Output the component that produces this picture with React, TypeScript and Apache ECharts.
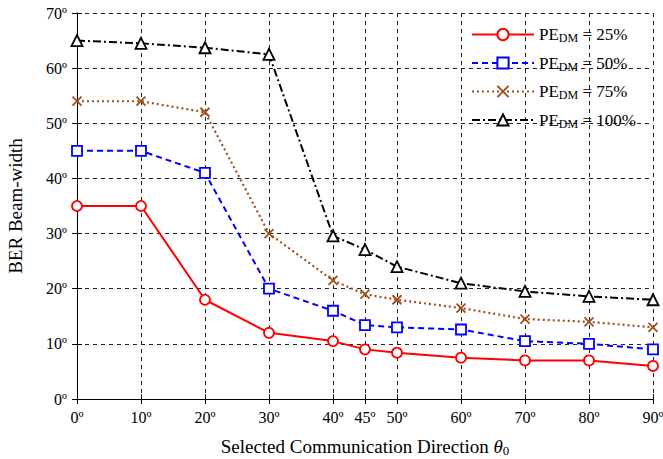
import React, { useEffect, useRef } from "react";
import * as echarts from "echarts";

const xValues = [0, 10, 20, 30, 40, 45, 50, 60, 70, 80, 90];
const xTicks = [0, 10, 20, 30, 40, 45, 50, 60, 70, 80, 90];
const pe25 = [35, 35, 18, 12, 10.5, 9, 8.4, 7.5, 7, 7, 6];
const pe50 = [45, 45, 41, 20, 16, 13.4, 13, 12.6, 10.5, 10, 9];
const pe75 = [54, 54, 52, 30, 21.5, 19, 18, 16.5, 14.5, 14, 13];
const pe100 = [65, 64.5, 63.7, 62.5, 29.6, 27.1, 24, 21, 19.5, 18.6, 18];
const seriesNames = ["25%", "50%", "75%", "100%"];

const FONT = "Liberation Serif";

export default function App() {
  const ref = useRef<HTMLDivElement>(null);
  useEffect(() => {
    if (!ref.current) return;
    const chart = echarts.init(ref.current, undefined, { renderer: "svg" });
    const deg = (v: number) => v + "\u00BA";
    const pair = (arr: number[]) => xValues.map((x, i) => [x, arr[i]]);
    const baseX = {
      type: "value",
      min: 0,
      max: 90,
      axisLine: { show: true, lineStyle: { color: "#000", width: 1 } },
      axisTick: { show: true, inside: true, length: 5, customValues: xTicks, lineStyle: { color: "#000" } },
    };
    const baseY = {
      type: "value",
      min: 0,
      max: 70,
      interval: 10,
      axisLine: { show: true, lineStyle: { color: "#000", width: 1 } },
      axisTick: { show: true, inside: true, length: 5, lineStyle: { color: "#000" } },
    };
    const mk = (
      name: string,
      data: number[],
      color: string,
      type: any,
      symbol: string,
      symbolSize: number,
      fill: string,
      width: number
    ) => ({
      name,
      type: "line",
      data: pair(data),
      color,
      symbol,
      symbolSize,
      showSymbol: true,
      lineStyle: { color, type, width },
      itemStyle: { color: fill, borderColor: color, borderWidth: 1.8 },
      emphasis: { disabled: true },
    });
    chart.setOption({
      animation: false,
      backgroundColor: "#fff",
      textStyle: { fontFamily: FONT },
      grid: { left: 77, right: 10, top: 13, bottom: 60, containLabel: false, outerBoundsMode: "none" },
      legend: {
        orient: "vertical",
        left: 466,
        top: 21,
        itemWidth: 62,
        itemHeight: 14,
        itemGap: 10.5,
        data: seriesNames.map((n) => "PE_" + n),
        formatter: (n: string) => "{a|PE}{b|DM}{a| = " + n.slice(3) + "}",
        textStyle: {
          fontFamily: FONT,
          color: "#000",
          rich: {
            a: { fontSize: 17, fontFamily: FONT, color: "#000" },
            b: { fontSize: 12, fontFamily: FONT, color: "#000", padding: [7, 0, 0, 0] },
          },
        },
      },
      xAxis: [
        {
          ...baseX,
          position: "bottom",
          name: "{n|Selected Communication Direction }{t|\u03B8}{s|0}",
          nameLocation: "middle",
          nameGap: 37,
          nameTextStyle: {
            rich: {
              n: { fontSize: 19, fontFamily: FONT, color: "#000" },
              t: { fontSize: 19, fontFamily: FONT, fontStyle: "italic", color: "#000" },
              s: { fontSize: 13, fontFamily: FONT, color: "#000", padding: [8, 0, 0, 0] },
            },
          },
          axisLabel: {
            show: true,
            customValues: xTicks,
            formatter: deg,
            fontSize: 16,
            fontFamily: FONT,
            color: "#000",
            margin: 10,
          },
          splitLine: { show: true, lineStyle: { color: "#222", type: [4, 4], width: 1 } },
        },
        {
          ...baseX,
          position: "top",
          axisLabel: { show: false },
          splitLine: { show: false },
        },
      ],
      yAxis: [
        {
          ...baseY,
          position: "left",
          name: "BER Beam-width",
          nameLocation: "middle",
          nameGap: 52,
          nameTextStyle: { fontSize: 19, fontFamily: FONT, color: "#000" },
          axisLabel: { formatter: deg, fontSize: 16, fontFamily: FONT, color: "#000", margin: 10 },
          splitLine: { show: true, lineStyle: { color: "#222", type: [4, 4], width: 1 } },
        },
        {
          ...baseY,
          position: "right",
          axisLabel: { show: false },
          splitLine: { show: false },
        },
      ],
      series: [
        mk("PE_25%", pe25, "#ff0000", "solid", "circle", 10, "#fff", 2),
        mk("PE_50%", pe50, "#0000ff", [6, 4], "rect", 10, "#fff", 2),
        mk("PE_75%", pe75, "#a0501e", [2, 3], "path://M0,0L10,10M10,0L0,10", 9, "none", 2.2),
        mk("PE_100%", pe100, "#000000", [8, 3, 2, 3], "triangle", 11, "#fff", 2),
      ],
    });
    return () => chart.dispose();
  }, []);
  return <div ref={ref} style={{ width: 663, height: 459, position: "absolute", left: 0, top: 0 }} />;
}
